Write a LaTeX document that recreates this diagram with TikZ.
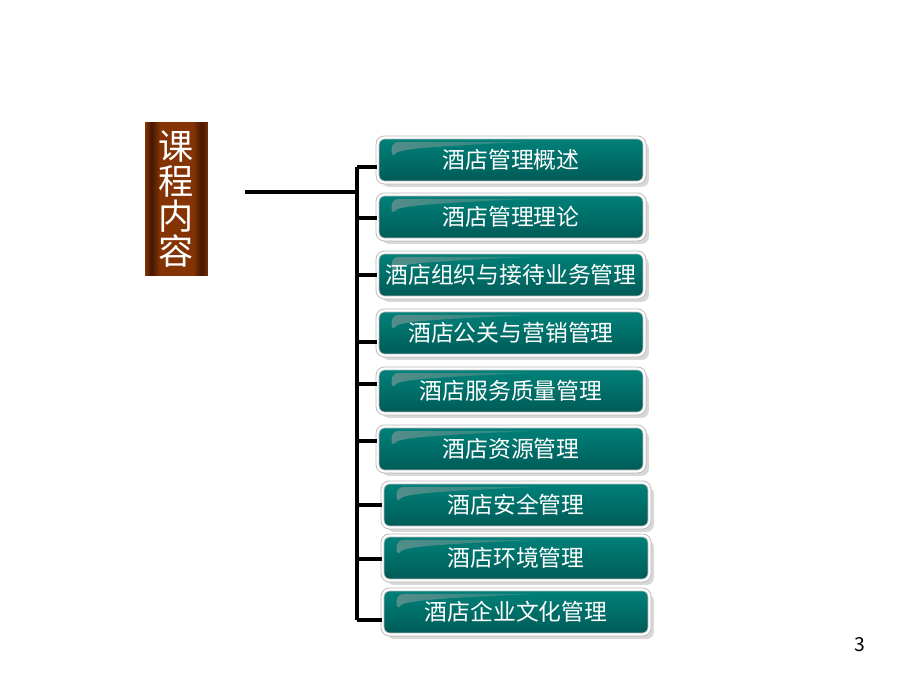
\documentclass[tikz,border=0pt]{standalone}
\usepackage{fontspec}
\setmainfont{Noto Sans CJK SC}
\usetikzlibrary{shadows}
\definecolor{boxtop}{RGB}{0,130,122}
\definecolor{boxbot}{RGB}{0,90,86}
\definecolor{ttlbrown}{RGB}{132,52,4}
\definecolor{ttldark}{RGB}{70,22,0}
\pgfdeclarehorizontalshading{ttlshade}{100bp}{color(0bp)=(ttlbrown); color(25bp)=(ttlbrown); color(30bp)=(ttldark); color(37bp)=(ttlbrown); color(63bp)=(ttlbrown); color(70bp)=(ttldark); color(75bp)=(ttlbrown!90!black); color(100bp)=(ttlbrown!90!black)}
\tikzset{
  item/.style={rounded corners=4pt,minimum width=5.34cm,minimum height=0.9cm,inner sep=0pt,
    top color=boxtop,bottom color=boxbot,draw=gray!55,double=white,double distance=1.2pt,line width=.5pt,
    text=white,font=\fontsize{13}{16}\selectfont,
    drop shadow={shadow xshift=2.5pt,shadow yshift=-2.5pt,fill=black!30},
    path picture={\shade[left color=boxtop!45!gray!90!white,right color=boxtop]
      ([shift={(8pt,-2.5pt)}]path picture bounding box.north west) -- ++(80pt,0)
      .. controls +(-45pt,-2pt) and +(5pt,6pt) .. ([shift={(8pt,-12pt)}]path picture bounding box.north west) -- cycle;}},
  link/.style={line width=2pt}
}
\begin{document}
\begin{tikzpicture}[x=0.02cm,y=-0.02cm]
\useasboundingbox (0,0) rectangle (920,690);

\node[shading=ttlshade,minimum width=1.26cm,minimum height=3.08cm,inner sep=0pt,align=center,text=white,
  font=\fontsize{20}{20}\selectfont] at (176.5,199)(ttl){课\\程\\内\\容};

\foreach \n/\t/\x/\y/\dy in {1/酒店管理概述/511/160/7, 2/酒店管理理论/511/217/1, 3/酒店组织与接待业务管理/511/275/0,
  4/酒店公关与营销管理/511/333/9, 5/酒店服务质量管理/511/391/-7, 6/酒店资源管理/511/449/-8,
  7/酒店安全管理/516/505/0, 8/酒店环境管理/516/558/1, 9/酒店企业文化管理/516/612/8}{
    \node[item] at (\x,\y)(b\n){\t};
    \coordinate (j\n) at (357,\y+\dy);
    \draw[link] (j\n) -- (b\n.west |- j\n);
}
\draw[link] (j1) -- (j9);
\coordinate (lft) at (245,192);
\draw[link] (lft) -- (lft -| j1);

\node[font=\fontsize{11}{13}\selectfont] at (860,645)(pg){3};
\end{tikzpicture}
\end{document}
